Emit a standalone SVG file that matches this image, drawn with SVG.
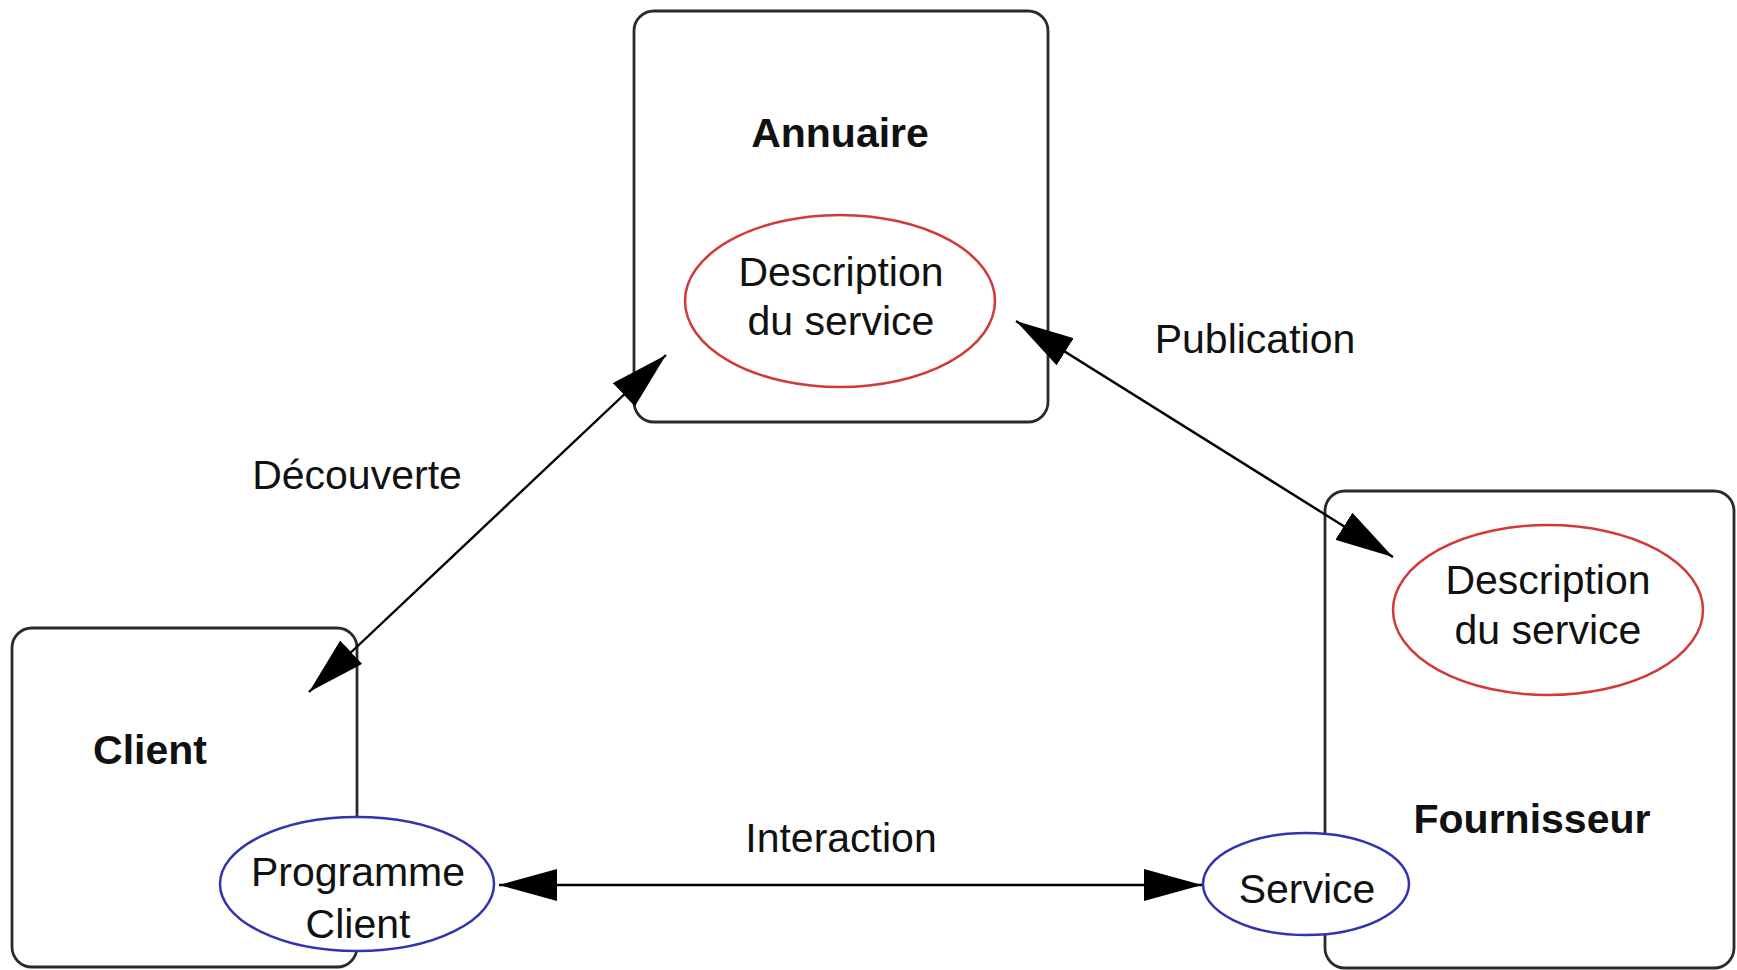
<svg xmlns="http://www.w3.org/2000/svg" width="1737" height="970" viewBox="0 0 1737 970">
  <style>
    .box { fill: #ffffff; stroke: #2a2a2a; stroke-width: 2.8; }
    .desc { fill: #ffffff; stroke: #d03a3a; stroke-width: 2.5; }
    .impl { fill: #ffffff; stroke: #3333b0; stroke-width: 2.5; }
    .title { font-family: "Liberation Sans", Arial, sans-serif; font-size: 41px; font-weight: bold; fill: #111111; text-anchor: middle; }
    .label { font-family: "Liberation Sans", Arial, sans-serif; font-size: 41px; fill: #111111; text-anchor: middle; }
    .link { fill: none; stroke: #000000; stroke-width: 2.4; marker-start: url(#head); marker-end: url(#head); }
  </style>
  <defs>
    <marker id="head" viewBox="0 0 58 32" refX="58" refY="16" markerWidth="58" markerHeight="32" markerUnits="userSpaceOnUse" orient="auto-start-reverse">
      <path d="M0,0 L58,16 L0,32 z" fill="#000000"/>
    </marker>
  </defs>

  <rect width="1737" height="970" fill="#ffffff"/>

  <!-- Directory -->
  <g id="annuaire">
    <rect class="box" x="634" y="11" width="414" height="411" rx="20" ry="20"/>
    <text class="title" x="840" y="147">Annuaire</text>
    <ellipse class="desc" cx="840" cy="301" rx="155" ry="86"/>
    <text class="label" x="841" y="286">Description</text>
    <text class="label" x="841" y="335">du service</text>
  </g>

  <!-- Client -->
  <g id="client">
    <rect class="box" x="12" y="628" width="345" height="339" rx="20" ry="20"/>
    <text class="title" x="150" y="764">Client</text>
    <ellipse class="impl" cx="357" cy="884" rx="137" ry="67"/>
    <text class="label" x="358" y="886">Programme</text>
    <text class="label" x="358" y="938">Client</text>
  </g>

  <!-- Provider -->
  <g id="fournisseur">
    <rect class="box" x="1325" y="491" width="409" height="477" rx="20" ry="20"/>
    <ellipse class="desc" cx="1548" cy="610" rx="155" ry="85"/>
    <text class="label" x="1548" y="594">Description</text>
    <text class="label" x="1548" y="644">du service</text>
    <text class="title" x="1532" y="833">Fournisseur</text>
    <ellipse class="impl" cx="1306" cy="884" rx="103" ry="51"/>
    <text class="label" x="1307" y="903">Service</text>
  </g>

  <!-- Connectors -->
  <g id="connectors">
    <line class="link" x1="309" y1="692" x2="666" y2="355"/>
    <line class="link" x1="1016" y1="321" x2="1393" y2="557"/>
    <line class="link" x1="499" y1="885" x2="1202" y2="885"/>
    <text class="label" x="357" y="489">Découverte</text>
    <text class="label" x="1255" y="353">Publication</text>
    <text class="label" x="841" y="852">Interaction</text>
  </g>
</svg>
